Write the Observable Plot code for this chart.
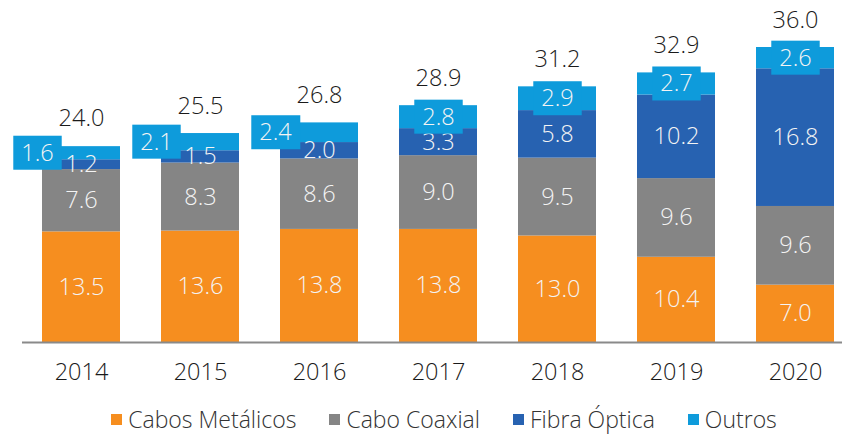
<!DOCTYPE html>
<html>
<head>
<meta charset="utf-8">
<script src="https://cdn.jsdelivr.net/npm/d3@7"></script>
<script src="https://cdn.jsdelivr.net/npm/@observablehq/plot@0.6"></script>
<style>
  html, body { margin: 0; padding: 0; background: #fff; }
  body { width: 842px; height: 435px; overflow: hidden; position: relative; font-family: "Open Sans", sans-serif; }
  #legend { position: absolute; left: 46px; right: 0; top: 404px; height: 30px; line-height: 30px;
            display: flex; justify-content: center; align-items: center; gap: 33px;
            font-family: "Open Sans", sans-serif; font-size: 23px; font-weight: 300; color: #333; }
  #legend .item { display: flex; align-items: center; gap: 6px; }
  #legend .sw { width: 11px; height: 11px; display: inline-block; }
</style>
</head>
<body>
<div id="chart"></div>
<div id="legend"></div>
<script>
const years = ["2014", "2015", "2016", "2017", "2018", "2019", "2020"];
const seriesNames = ["Cabos Metálicos", "Cabo Coaxial", "Fibra Óptica", "Outros"];
const metalicos = [13.5, 13.6, 13.8, 13.8, 13.0, 10.4, 7.0];
const coaxial   = [7.6, 8.3, 8.6, 9.0, 9.5, 9.6, 9.6];
const fibra     = [1.2, 1.5, 2.0, 3.3, 5.8, 10.2, 16.8];
const outros    = [1.6, 2.1, 2.4, 2.8, 2.9, 2.7, 2.6];
const totals    = [24.0, 25.5, 26.8, 28.9, 31.2, 32.9, 36.0];
const colors = ["#F68E1F", "#858585", "#2762B1", "#0E9BDB"];

const seriesValues = [metalicos, coaxial, fibra, outros];
const data = [];
seriesNames.forEach((s, si) => {
  years.forEach((y, i) => data.push({year: y, series: s, value: seriesValues[si][i], idx: i}));
});
const totalData = years.map((y, i) => ({year: y, total: totals[i]}));

const labelFont = {fontSize: 23.5, fontWeight: 300, fontFamily: "Open Sans"};
const stackOpts = {x: "year", y: "value", z: "series", order: seriesNames};

const chart = Plot.plot({
  width: 842,
  height: 395,
  marginLeft: 22,
  marginRight: 0,
  marginTop: 47,
  marginBottom: 53,
  style: {fontFamily: "Open Sans", background: "#fff"},
  x: {domain: years, paddingInner: 0.345, paddingOuter: 0.1165, align: 0.71, label: null},
  y: {domain: [0, 36], axis: null},
  color: {domain: seriesNames, range: colors},
  marks: [
    Plot.barY(data, Plot.stackY({...stackOpts, fill: "series"})),
    Plot.text(data, Plot.stackY({
      ...stackOpts, fill: "#f4f4f4", ...labelFont,
      text: d => d.series !== "Outros" ? d.value.toFixed(1) : ""
    })),
    Plot.text(data, Plot.stackY({
      ...stackOpts, fill: "#f4f4f4", ...labelFont, dx: -44, className: "outros-lab",
      text: d => d.series === "Outros" && d.idx < 3 ? d.value.toFixed(1) : ""
    })),
    Plot.text(data, Plot.stackY({
      ...stackOpts, fill: "#f4f4f4", ...labelFont, className: "outros-lab",
      text: d => d.series === "Outros" && d.idx >= 3 ? d.value.toFixed(1) : ""
    })),
    Plot.text(totalData, {x: "year", y: "total", text: d => d.total.toFixed(1), dy: -27, fill: "#1a1a1a", ...labelFont}),
    Plot.ruleY([0], {stroke: "#8a8a8a", strokeWidth: 2}),
    Plot.axisX({tickSize: 0, tickPadding: 21, fontSize: 23.5, fontWeight: 300, fill: "#1a1a1a", label: null})
  ]
});
document.getElementById("chart").append(chart);

// label boxes behind "Outros" labels
const ns = "http://www.w3.org/2000/svg";
chart.querySelectorAll("g.outros-lab text").forEach(t => {
  if (!t.textContent.trim()) return;
  const b = t.getBBox();
  const r = document.createElementNS(ns, "rect");
  const tr = t.getAttribute("transform");
  if (tr) r.setAttribute("transform", tr);
  const cy = b.y + b.height / 2 + 1;
  r.setAttribute("x", b.x - 8);
  r.setAttribute("y", cy - 17);
  r.setAttribute("width", b.width + 16);
  r.setAttribute("height", 34);
  r.setAttribute("fill", colors[3]);
  t.parentNode.insertBefore(r, t);
});

const legend = document.getElementById("legend");
seriesNames.forEach((s, i) => {
  const item = document.createElement("span");
  item.className = "item";
  item.innerHTML = `<span class="sw" style="background:${colors[i]}"></span><span>${s}</span>`;
  legend.append(item);
});
</script>
</body>
</html>
